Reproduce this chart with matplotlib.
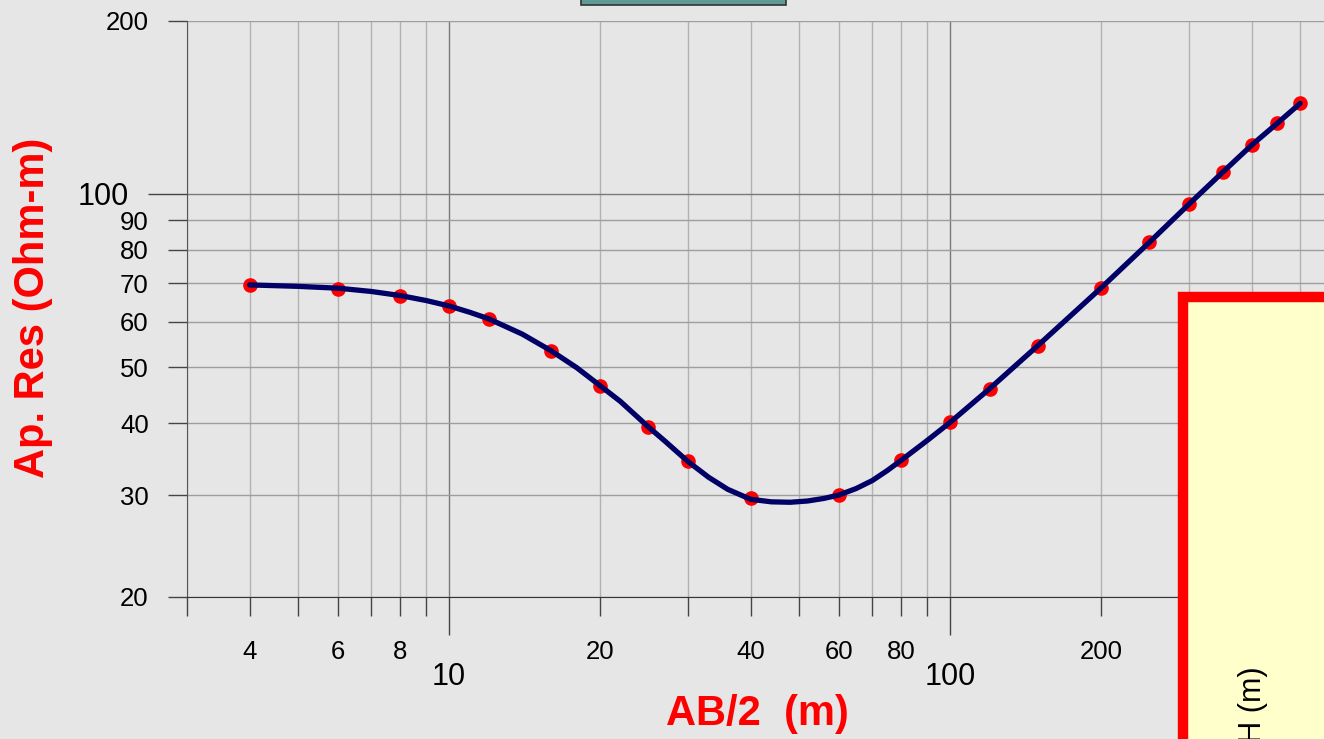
import matplotlib
matplotlib.use("Agg")
import matplotlib.pyplot as plt
from matplotlib.patches import Rectangle

# measured points: AB/2 (m) and apparent resistivity (Ohm-m)
ab2 = [4, 6, 8, 10, 12, 16, 20, 25, 30, 40, 60, 80, 100, 120, 150, 200,
       250, 300, 350, 400, 450, 500]
res = [69.5, 68.4, 66.5, 63.9, 60.6, 53.4, 46.4, 39.4, 34.4, 29.7, 30.0,
       34.5, 40.2, 45.9, 54.5, 68.6, 82.5, 96.0, 109.0, 121.5, 132.6, 143.6]

# model curve
curve_x = [4, 5, 6, 7, 8, 9, 10, 11, 12, 14, 16, 18, 20, 22, 25, 27, 30, 33,
           36, 40, 44, 48, 52, 56, 60, 65, 70, 75, 80, 90, 100, 120, 150, 200,
           250, 300, 350, 400, 450, 500]
curve_y = [69.5, 69.1, 68.6, 67.7, 66.6, 65.3, 63.9, 62.3, 60.7, 57.1, 53.4,
           49.9, 46.5, 43.6, 39.4, 37.2, 34.3, 32.2, 30.7, 29.5, 29.2, 29.15,
           29.3, 29.6, 30.0, 30.8, 31.8, 33.1, 34.5, 37.3, 40.1, 45.9, 54.6,
           68.6, 82.4, 96.0, 109.0, 121.5, 132.6, 143.6]

x_minor = [3, 4, 5, 6, 7, 8, 9, 20, 30, 40, 50, 60, 70, 80, 90,
           200, 300, 400, 500, 600, 700, 800, 900]
x_minor_labels = ['', '4', '', '6', '', '8', '', '20', '', '40', '', '60', '', '80', '',
                  '200', '', '400', '', '', '', '', '']
y_minor = [20, 30, 40, 50, 60, 70, 80, 90, 200]

W, H = 1324, 739
BG = '#E6E6E6'

plt.rcParams['font.family'] = ['Liberation Sans', 'DejaVu Sans']


def fx(px):
    return px / W


def fy(py):
    return 1 - py / H


def main():
    fig = plt.figure(figsize=(W / 100, H / 100), dpi=100, facecolor=BG)
    # x from 3 to 1000, the right part runs past the picture edge
    ax = fig.add_axes([fx(187), fy(596.5), 1264 / W, (596.5 - 20.5) / H])
    ax.set_facecolor(BG)
    ax.set_xscale('log')
    ax.set_yscale('log')
    ax.set_xlim(3, 1000)
    ax.set_ylim(20, 200)

    ax.set_xticks([10, 100], labels=['10', '100'])
    ax.set_xticks(x_minor, labels=x_minor_labels, minor=True)
    ax.set_yticks([100], labels=['100'])
    ax.set_yticks(y_minor, labels=[str(v) for v in y_minor], minor=True)

    ax.tick_params(axis='x', which='major', length=27, width=1, color='#444444',
                   labelsize=22, pad=20)
    ax.tick_params(axis='x', which='minor', length=13.5, width=1, color='#444444',
                   labelsize=18.5, pad=18)
    ax.tick_params(axis='y', which='major', length=28, width=1, color='#444444',
                   labelsize=22, pad=14)
    ax.tick_params(axis='y', which='minor', length=13.5, width=1, color='#444444',
                   labelsize=18.5, pad=14)

    ax.xaxis.grid(True, which='minor', color='#B2B2B2', lw=1)
    ax.xaxis.grid(True, which='major', color='#7A7A7A', lw=1)
    ax.yaxis.grid(True, which='minor', color='#9E9E9E', lw=1)
    ax.yaxis.grid(True, which='major', color='#7A7A7A', lw=1)
    ax.set_axisbelow(True)

    for s in ['top', 'right']:
        ax.spines[s].set_visible(False)
    ax.spines['left'].set_color('#555555')
    ax.spines['bottom'].set_color('#333333')

    ax.plot(ab2, res, 'o', color='red', ms=9.5, zorder=3, clip_on=False)
    ax.plot(curve_x, curve_y, color='#000066', lw=3.8, zorder=4,
            solid_capstyle='round', solid_joinstyle='round')

    fig.text(fx(757), fy(714), 'AB/2  (m)', color='red', fontsize=30,
             fontweight='bold', ha='center', va='center')
    fig.text(fx(33), fy(308), 'Ap. Res (Ohm-m)', color='red', fontsize=30,
             fontweight='bold', ha='center', va='center', rotation=90)

    # teal box cut off at the top
    fig.patches.append(Rectangle((fx(581), fy(5)), fx(786) - fx(581), 0.05,
                                 transform=fig.transFigure, facecolor='#5F9B96',
                                 edgecolor='#333333', lw=1.2, zorder=5))
    # yellow depth panel cut off at the right and bottom
    fig.patches.append(Rectangle((fx(1183), fy(297) - 1), 0.2, 1,
                                 transform=fig.transFigure, facecolor='#FFFFCC',
                                 edgecolor='red', lw=7.5, zorder=5))
    fig.text(fx(1253), fy(666), 'DEPTH (m)', fontsize=22, rotation=90,
             ha='center', va='top', color='black', zorder=6)

    fig.savefig('out.png', dpi=100, facecolor=BG)


if __name__ == "__main__":
    main()
